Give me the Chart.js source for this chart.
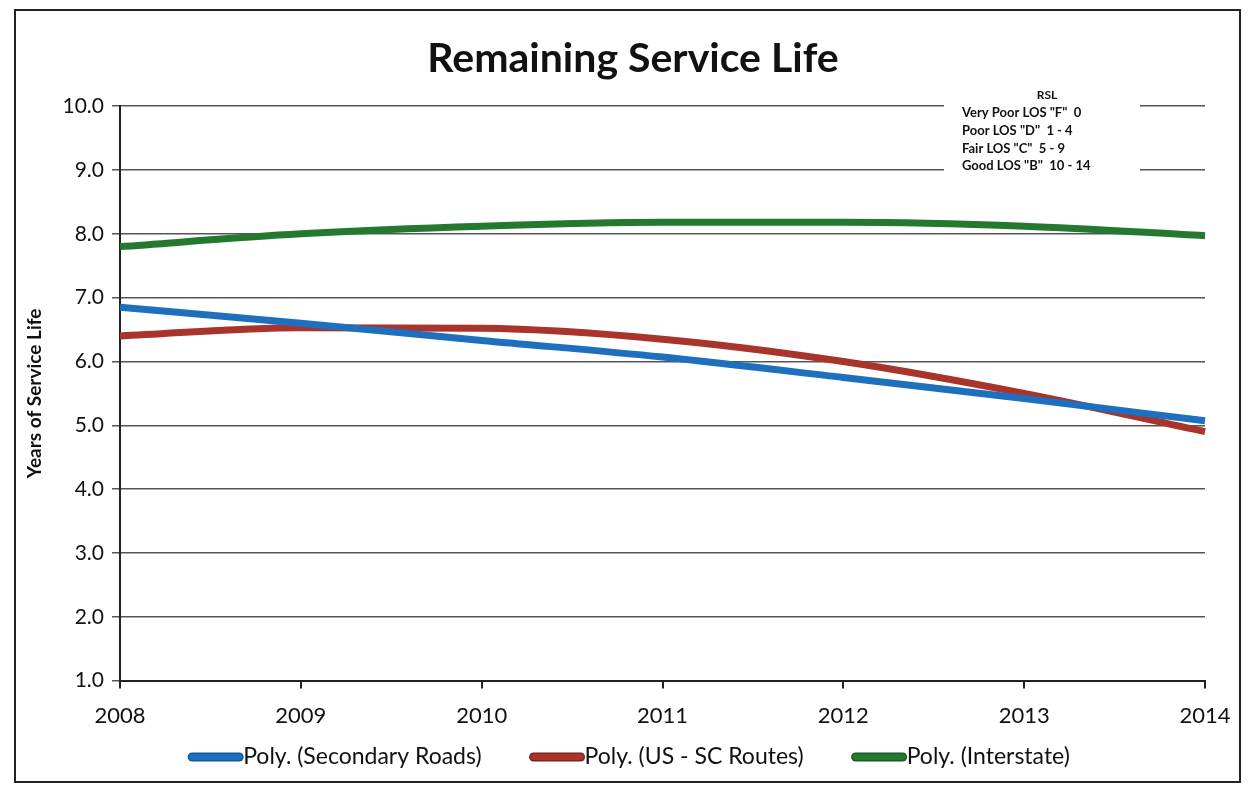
<!DOCTYPE html>
<html>
<head>
<meta charset="utf-8">
<title>Remaining Service Life</title>
<script src="https://cdn.jsdelivr.net/npm/chart.js@4"></script>
<style>
  html, body { margin: 0; padding: 0; background: #fff; }
  #wrap { width: 1251px; height: 790px; position: relative; }
</style>
</head>
<body>
<div id="wrap"><canvas id="chart-rsl" width="1251" height="790"></canvas></div>
<script>
// Years on the x axis
const years = ['2008', '2009', '2010', '2011', '2012', '2013', '2014']

// Polynomial trend values, years of remaining service life
const secondaryRoads = [6.85, 6.6, 6.33, 6.07, 5.75, 5.42, 5.07]
const usScRoutes = [6.4, 6.53, 6.52, 6.35, 6.0, 5.5, 4.9]
const interstate = [7.8, 8.0, 8.12, 8.18, 8.18, 8.12, 7.97]

// RSL key in the top right corner
const rslTitle = 'RSL'
const rslRows = ['Very Poor LOS "F"  0', 'Poor LOS "D"  1 - 4', 'Fair LOS "C"  5 - 9', 'Good LOS "B"  10 - 14']

const yTitle = 'Years of Service Life'
const seriesNames = ['Poly. (Secondary Roads)', 'Poly. (US - SC Routes)', 'Poly. (Interstate)']
const seriesColors = ['#1f6fbf', '#a8342b', '#24792f']
const seriesEdges = ['#17569a', '#7a2520', '#1a5a22']

const textFont = 'Lato, "Open Sans", "Liberation Sans", sans-serif'

// page frame, y axis title, bottom legend and the RSL key box
const decorations = {
  id: 'decorations',
  beforeDraw(chart) {
    const ctx = chart.ctx
    ctx.save()
    ctx.fillStyle = '#fff'
    ctx.fillRect(0, 0, chart.width, chart.height)
    ctx.restore()
  },
  afterDraw(chart) {
    const ctx = chart.ctx
    const area = chart.chartArea
    ctx.save()
    ctx.strokeStyle = '#222'
    ctx.lineWidth = 2
    ctx.strokeRect(15, 10, 1225, 772)

    // legend row: thick swatch right against its label
    ctx.font = '23px ' + textFont
    ctx.textBaseline = 'middle'
    ctx.textAlign = 'left'
    const swatchW = 55
    const gap = 48
    const widths = chart.data.datasets.map(ds => swatchW + ctx.measureText(ds.label).width)
    const total = widths.reduce((a, b) => a + b) + gap * (widths.length - 1)
    let x = 629 - total / 2
    const y = 757
    chart.data.datasets.forEach((ds, i) => {
      ctx.lineCap = 'round'
      ctx.strokeStyle = seriesEdges[i]
      ctx.lineWidth = 9
      ctx.beginPath()
      ctx.moveTo(x + 4, y)
      ctx.lineTo(x + swatchW - 4, y)
      ctx.stroke()
      ctx.strokeStyle = seriesColors[i]
      ctx.lineWidth = 6
      ctx.stroke()
      ctx.fillStyle = '#111'
      ctx.fillText(ds.label, x + swatchW, y)
      x += widths[i] + gap
    })

    // rotated axis title left of the tick labels
    ctx.translate(35, (area.top + area.bottom) / 2)
    ctx.rotate(-Math.PI / 2)
    ctx.fillStyle = '#111'
    ctx.font = 'bold 19px ' + textFont
    ctx.textAlign = 'center'
    ctx.fillText(yTitle, 0, 0)
    ctx.restore()
  },
  afterDatasetsDraw(chart) {
    const ctx = chart.ctx
    ctx.save()
    ctx.fillStyle = '#fff'
    ctx.fillRect(944, 84, 196, 100)
    ctx.fillStyle = '#111'
    ctx.font = 'bold 12px ' + textFont
    ctx.textAlign = 'center'
    ctx.textBaseline = 'middle'
    ctx.fillText(rslTitle, 1047, 95)
    ctx.textAlign = 'left'
    ctx.font = 'bold 13px ' + textFont
    rslRows.forEach((row, i) => {
      ctx.fillText(row, 962, 113 + i * 17.7)
    })
    ctx.restore()
  }
}

const datasets = [secondaryRoads, usScRoutes, interstate].map((values, i) => ({
  label: seriesNames[i],
  data: values,
  borderColor: seriesColors[i],
  backgroundColor: seriesColors[i],
  borderWidth: 7,
  pointRadius: 0,
  tension: 0.4,
  cubicInterpolationMode: 'monotone',
  fill: false
}))

const ctx = document.getElementById('chart-rsl')
new Chart(ctx, {
  type: 'line',
  data: {
    labels: years,
    datasets: datasets
  },
  plugins: [decorations],
  options: {
    responsive: false,
    animation: false,
    layout: {
      padding: { left: 61, right: 46, top: 18, bottom: 47 }
    },
    plugins: {
      title: {
        display: true,
        text: 'Remaining Service Life',
        color: '#111',
        font: { family: textFont, size: 41, weight: 'bold' },
        padding: { top: 16, bottom: 23 }
      },
      legend: { display: false },
      tooltip: { enabled: false }
    },
    scales: {
      x: {
        offset: false,
        border: { display: true, color: '#222', width: 2 },
        grid: { drawOnChartArea: false, drawTicks: true, tickLength: 8, color: '#222', lineWidth: 2 },
        ticks: {
          color: '#111',
          font: { family: textFont, size: 22 },
          padding: 14,
          maxRotation: 0
        }
      },
      y: {
        min: 1,
        max: 10,
        border: { display: true, color: '#222', width: 2 },
        grid: { color: '#555', lineWidth: 1.5, tickLength: 8 },
        ticks: {
          stepSize: 1,
          color: '#111',
          font: { family: textFont, size: 21 },
          padding: 8,
          callback: v => Number(v).toFixed(1)
        },
        afterFit(scale) {
          scale.width = 59
        }
      }
    }
  }
})
</script>
</body>
</html>
